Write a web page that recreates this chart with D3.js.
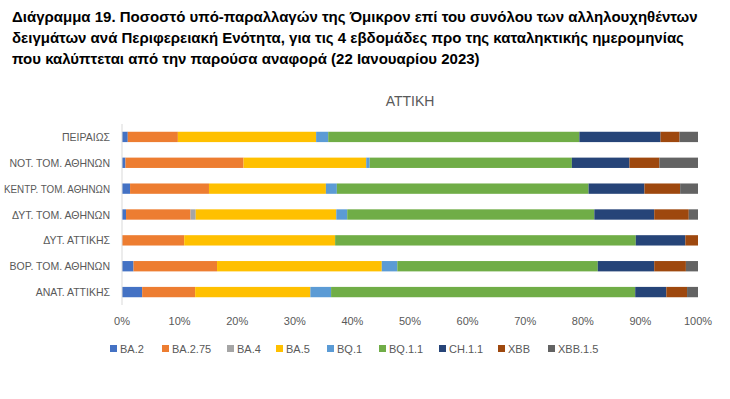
<!DOCTYPE html>
<html lang="el">
<head>
<meta charset="utf-8">
<title>Διάγραμμα 19</title>
<style>
body { margin:0; background:#fff; }
* { font-family:"Liberation Sans","Noto Sans",sans-serif; }
</style>
<script src="https://cdnjs.cloudflare.com/ajax/libs/d3/7.8.5/d3.min.js"></script>
</head>
<body>
<script>
// data (percent per region)
var regions = ["ΠΕΙΡΑΙΩΣ", "ΝΟΤ. ΤΟΜ. ΑΘΗΝΩΝ", "ΚΕΝΤΡ. ΤΟΜ. ΑΘΗΝΩΝ", "ΔΥΤ. ΤΟΜ. ΑΘΗΝΩΝ",
	"ΔΥΤ. ΑΤΤΙΚΗΣ", "ΒΟΡ. ΤΟΜ. ΑΘΗΝΩΝ", "ΑΝΑΤ. ΑΤΤΙΚΗΣ"];
var variants = ["BA.2", "BA.2.75", "BA.4", "BA.5", "BQ.1", "BQ.1.1", "CH.1.1", "XBB", "XBB.1.5"];
var ba2    = [1.0, 0.6, 1.4, 0.7, 0.0, 2.0, 3.5];
var ba275  = [8.7, 20.5, 13.7, 11.2, 10.8, 14.5, 9.2];
var ba4    = [0.0, 0.0, 0.0, 0.9, 0.0, 0.0, 0.0];
var ba5    = [24.0, 21.3, 20.3, 24.4, 26.2, 28.6, 20.0];
var bq1    = [2.1, 0.6, 1.9, 1.9, 0.0, 2.7, 3.6];
var bq11   = [43.6, 35.1, 43.7, 42.9, 52.2, 34.8, 52.8];
var ch11   = [14.1, 10.0, 9.7, 10.4, 8.6, 9.8, 5.4];
var xbb    = [3.3, 5.2, 6.2, 6.0, 2.2, 5.5, 3.6];
var xbb15  = [3.2, 6.7, 3.1, 1.6, 0.0, 2.1, 1.9];
var ticks  = [0, 10, 20, 30, 40, 50, 60, 70, 80, 90, 100];

var colors = ["#4472C4", "#ED7D31", "#A5A5A5", "#FFC000", "#5B9BD5", "#70AD47", "#264478", "#9E480E", "#636363"];
var series = [ba2, ba275, ba4, ba5, bq1, bq11, ch11, xbb, xbb15];

var width = 730, height = 399;
var svg = d3.select("body").append("svg")
	.attr("width", width)
	.attr("height", height);

// title
var titleLines = [
	"Διάγραμμα 19. Ποσοστό υπό-παραλλαγών της Όμικρον επί του συνόλου των αλληλουχηθέντων",
	"δειγμάτων ανά Περιφερειακή Ενότητα, για τις 4 εβδομάδες προ της καταληκτικής ημερομηνίας",
	"που καλύπτεται από την παρούσα αναφορά (22 Ιανουαρίου 2023)"];
svg.selectAll("text.title")
	.data(titleLines)
	.enter()
	.append("text")
		.attr("class", "title")
		.attr("x", 12)
		.attr("y", function(d, i) { return 22 + i * 21; })
		.style("font-size", "15px")
		.style("font-weight", "bold")
		.style("fill", "#000")
		.text(function(d) { return d; });

svg.append("text")
	.attr("x", 410)
	.attr("y", 106)
	.attr("text-anchor", "middle")
	.style("font-size", "14px")
	.style("fill", "#595959")
	.text("ΑΤΤΙΚΗ");

// scales
var x = d3.scaleLinear().domain([0, 100]).range([122, 698]);
var y = d3.scaleBand().domain(regions).range([124, 305]).paddingInner(0.6).paddingOuter(0.3);

// stack rows
var rows = regions.map(function(r, i) {
	var o = { region: r };
	variants.forEach(function(v, j) { o[v] = series[j][i]; });
	return o;
});
var stacked = d3.stack().keys(variants)(rows);

svg.selectAll("g.layer")
	.data(stacked)
	.enter()
	.append("g")
		.attr("class", "layer")
		.style("fill", function(d, i) { return colors[i]; })
	.selectAll("rect")
	.data(function(d) { return d; })
	.enter()
	.append("rect")
		.attr("x", function(d) { return x(d[0]); })
		.attr("width", function(d) { return Math.max(0, x(d[1]) - x(d[0])); })
		.attr("y", function(d) { return y(d.data.region); })
		.attr("height", y.bandwidth());

// vertical axis line at 0%
svg.append("line")
	.attr("x1", x(0)).attr("x2", x(0))
	.attr("y1", 124).attr("y2", 305)
	.style("stroke", "#d9d9d9")
	.style("stroke-width", "1px");

// region labels (squeeze any that would run off the left edge)
svg.selectAll("text.cat")
	.data(regions)
	.enter()
	.append("text")
		.attr("class", "cat")
		.attr("x", 110)
		.attr("y", function(d) { return y(d) + y.bandwidth() / 2 + 4; })
		.attr("text-anchor", "end")
		.style("font-size", "10.5px")
		.style("fill", "#595959")
		.text(function(d) { return d; })
		.each(function() {
			if (this.getComputedTextLength() > 106) {
				d3.select(this).attr("textLength", 106).attr("lengthAdjust", "spacingAndGlyphs");
			}
		});

// x tick labels
svg.selectAll("text.tick")
	.data(ticks)
	.enter()
	.append("text")
		.attr("class", "tick")
		.attr("x", function(d) { return x(d); })
		.attr("y", 325)
		.attr("text-anchor", "middle")
		.style("font-size", "11px")
		.style("fill", "#595959")
		.text(function(d) { return d + "%"; });

// legend
var legendX = [110, 162, 227, 276, 327, 379, 439, 498, 548];
var legend = svg.selectAll("g.legend")
	.data(variants)
	.enter()
	.append("g")
		.attr("class", "legend")
		.attr("transform", function(d, i) { return "translate(" + legendX[i] + ",349)"; });
legend.append("rect")
	.attr("x", 0).attr("y", -4)
	.attr("width", 7).attr("height", 7)
	.style("fill", function(d, i) { return colors[i]; });
legend.append("text")
	.attr("x", 10)
	.attr("y", 4)
	.style("font-size", "11px")
	.style("fill", "#595959")
	.text(function(d) { return d; });
</script>
</body>
</html>
